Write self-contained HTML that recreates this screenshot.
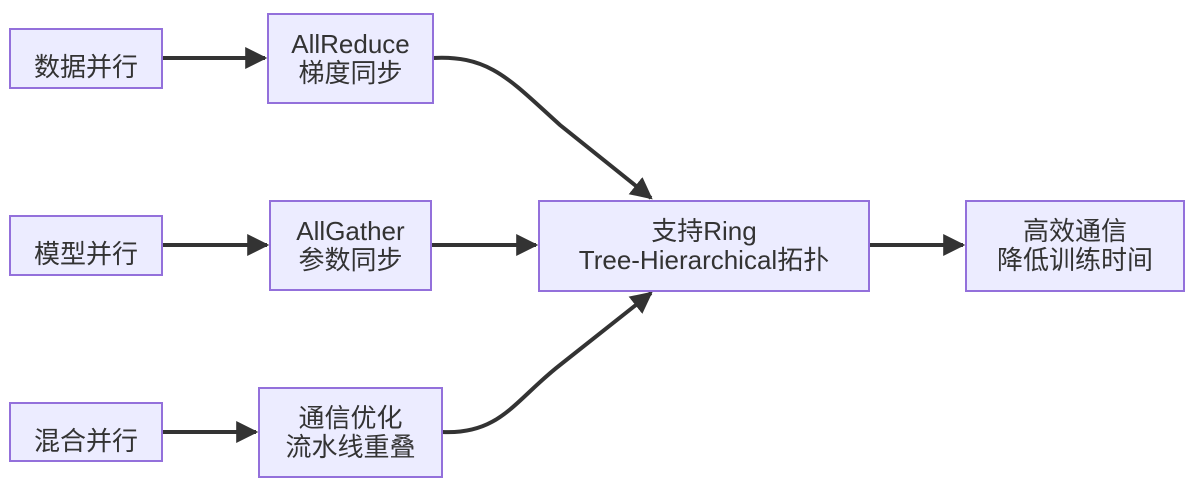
<!DOCTYPE html>
<html><head><meta charset="utf-8"><style>
body{margin:0;width:1194px;height:483px;background:#fff;position:relative;overflow:hidden;font-family:"Liberation Sans","Noto Sans CJK SC",sans-serif;}
.n{position:absolute;box-sizing:border-box;background:#ececff;border:2px solid #9370db;color:#333;font-size:26px;line-height:29px;text-align:center;display:flex;flex-direction:column;justify-content:center;}
.low{padding-top:18px;}
svg{position:absolute;left:0;top:0}
</style></head><body>
<svg width="1194" height="483">
<defs><marker id="a" viewBox="0 0 10 10" refX="9" refY="5" markerWidth="8" markerHeight="8" markerUnits="userSpaceOnUse" orient="auto"><path d="M0,0L10,5L0,10z" fill="#333"/></marker>
<marker id="b" viewBox="0 0 10 10" refX="9" refY="5" markerWidth="22" markerHeight="22" markerUnits="userSpaceOnUse" orient="auto"><path d="M0,0L10,5L0,10z" fill="#333"/></marker></defs>
<g stroke="#333" stroke-width="4" fill="none">
<path d="M162,58L265,58" marker-end="url(#b)"/>
<path d="M162,245L267,245" marker-end="url(#b)"/>
<path d="M162,432L256,432" marker-end="url(#b)"/>
<path d="M431,245L536,245" marker-end="url(#b)"/>
<path d="M869,245L963,245" marker-end="url(#b)"/>
<path d="M433,58C490,55 510,80 560,125 L651,198" marker-end="url(#b)"/>
<path d="M442,432C500,435 515,400 560,365 L651,293" marker-end="url(#b)"/>
</g></svg>
<div class="n low" style="left:9px;top:28px;width:154px;height:61px">数据并行</div>
<div class="n" style="left:267px;top:13px;width:167px;height:91px">AllReduce<br>梯度同步</div>
<div class="n low" style="left:9px;top:215px;width:154px;height:61px">模型并行</div>
<div class="n" style="left:269px;top:200px;width:163px;height:91px">AllGather<br>参数同步</div>
<div class="n low" style="left:9px;top:402px;width:154px;height:60px">混合并行</div>
<div class="n" style="left:258px;top:387px;width:185px;height:91px">通信优化<br>流水线重叠</div>
<div class="n" style="left:538px;top:200px;width:332px;height:92px">支持Ring<br>Tree-Hierarchical拓扑</div>
<div class="n" style="left:965px;top:200px;width:220px;height:92px">高效通信<br>降低训练时间</div>
</body></html>
